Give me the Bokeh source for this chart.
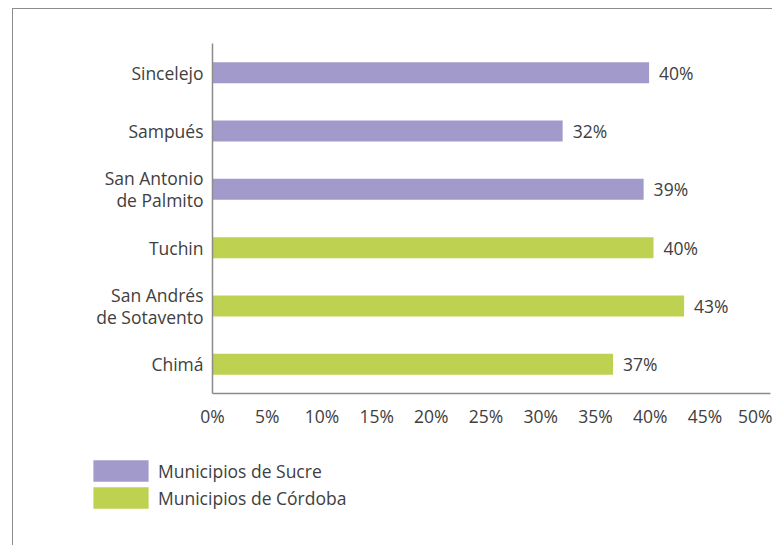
from bokeh.plotting import figure
from bokeh.models import ColumnDataSource, Range1d, FixedTicker, Legend, LegendItem
from bokeh.core.properties import value
from bokeh.embed import file_html
from bokeh.resources import INLINE

categories = ["Sincelejo", "Sampués", "San Antonio\nde Palmito", "Tuchin", "San Andrés\nde Sotavento", "Chimá"]
groups = ["Municipios de Sucre", "Municipios de Sucre", "Municipios de Sucre",
          "Municipios de Córdoba", "Municipios de Córdoba", "Municipios de Córdoba"]
values = [39.9, 32.0, 39.4, 40.3, 43.1, 36.6]
value_labels = ["40%", "32%", "39%", "40%", "43%", "37%"]
tick_values = [0, 5, 10, 15, 20, 25, 30, 35, 40, 45, 50]
tick_labels = ["0%", "5%", "10%", "15%", "20%", "25%", "30%", "35%", "40%", "45%", "50%"]
group_names = ["Municipios de Sucre", "Municipios de Córdoba"]
group_colors = ["#A29ACB", "#BED150"]

FONT = "Open Sans"
TXT = "#404040"
FS = "17.5px"

n = len(categories)
positions = [n - 1 - i for i in range(n)]  # first category at top

# frame spans the whole figure; axes are pinned at fixed locations
p = figure(width=760, height=537, output_backend="svg", toolbar_location=None,
           x_range=Range1d(-18.19, 51.27), y_range=Range1d(-3.124, 6.083),
           min_border=0, min_border_left=0, min_border_right=0, min_border_top=0, min_border_bottom=0,
           styles={"margin-left": "12px", "margin-top": "8px",
                   "border-left": "1px solid #8c8c8c", "border-top": "1px solid #8c8c8c"})
p.outline_line_color = None
p.xgrid.grid_line_color = None
p.ygrid.grid_line_color = None

items = []
for name, color in zip(group_names, group_colors):
    idx = [i for i, g in enumerate(groups) if g == name]
    src = ColumnDataSource(dict(pos=[positions[i] for i in idx], val=[values[i] for i in idx],
                                lab=[value_labels[i] for i in idx]))
    r = p.hbar(y="pos", right="val", left=0, height=0.36, source=src,
               fill_color=color, line_color=None)
    p.text(x="val", y="pos", text="lab", source=src, x_offset=10,
           text_baseline="middle", text_align="left",
           text_font=value(FONT), text_font_size=FS, text_color=TXT)
    items.append(LegendItem(label=name, renderers=[r]))

for ax in (p.xaxis[0], p.yaxis[0]):
    ax.axis_line_color = "#8c8c8c"
    ax.axis_line_width = 1.5
    ax.major_tick_line_color = None
    ax.minor_tick_line_color = None
    ax.major_label_text_font = FONT
    ax.major_label_text_font_size = FS
    ax.major_label_text_color = TXT

p.xaxis.fixed_location = -0.5
p.xaxis.bounds = (0, 51)
p.xaxis.ticker = FixedTicker(ticks=tick_values)
p.xaxis.major_label_overrides = {t: l for t, l in zip(tick_values, tick_labels)}
p.xaxis.major_label_standoff = 5

p.yaxis.fixed_location = 0
p.yaxis.bounds = (-0.5, n - 0.5)
p.yaxis.ticker = FixedTicker(ticks=positions)
p.yaxis.major_label_overrides = {pos: c for pos, c in zip(positions, categories)}
p.yaxis.major_label_standoff = 3
p.yaxis.major_label_text_line_height = 0.92

legend = Legend(items=items, location=(73, 35), orientation="vertical",
                glyph_width=69, glyph_height=27, spacing=0, label_standoff=3,
                label_text_font=FONT, label_text_font_size=FS, label_text_color=TXT,
                background_fill_alpha=0, border_line_color=None, padding=0, margin=0,
                label_height=22)
p.add_layout(legend, "center")

open("out.html", "w").write(file_html(p, INLINE))
